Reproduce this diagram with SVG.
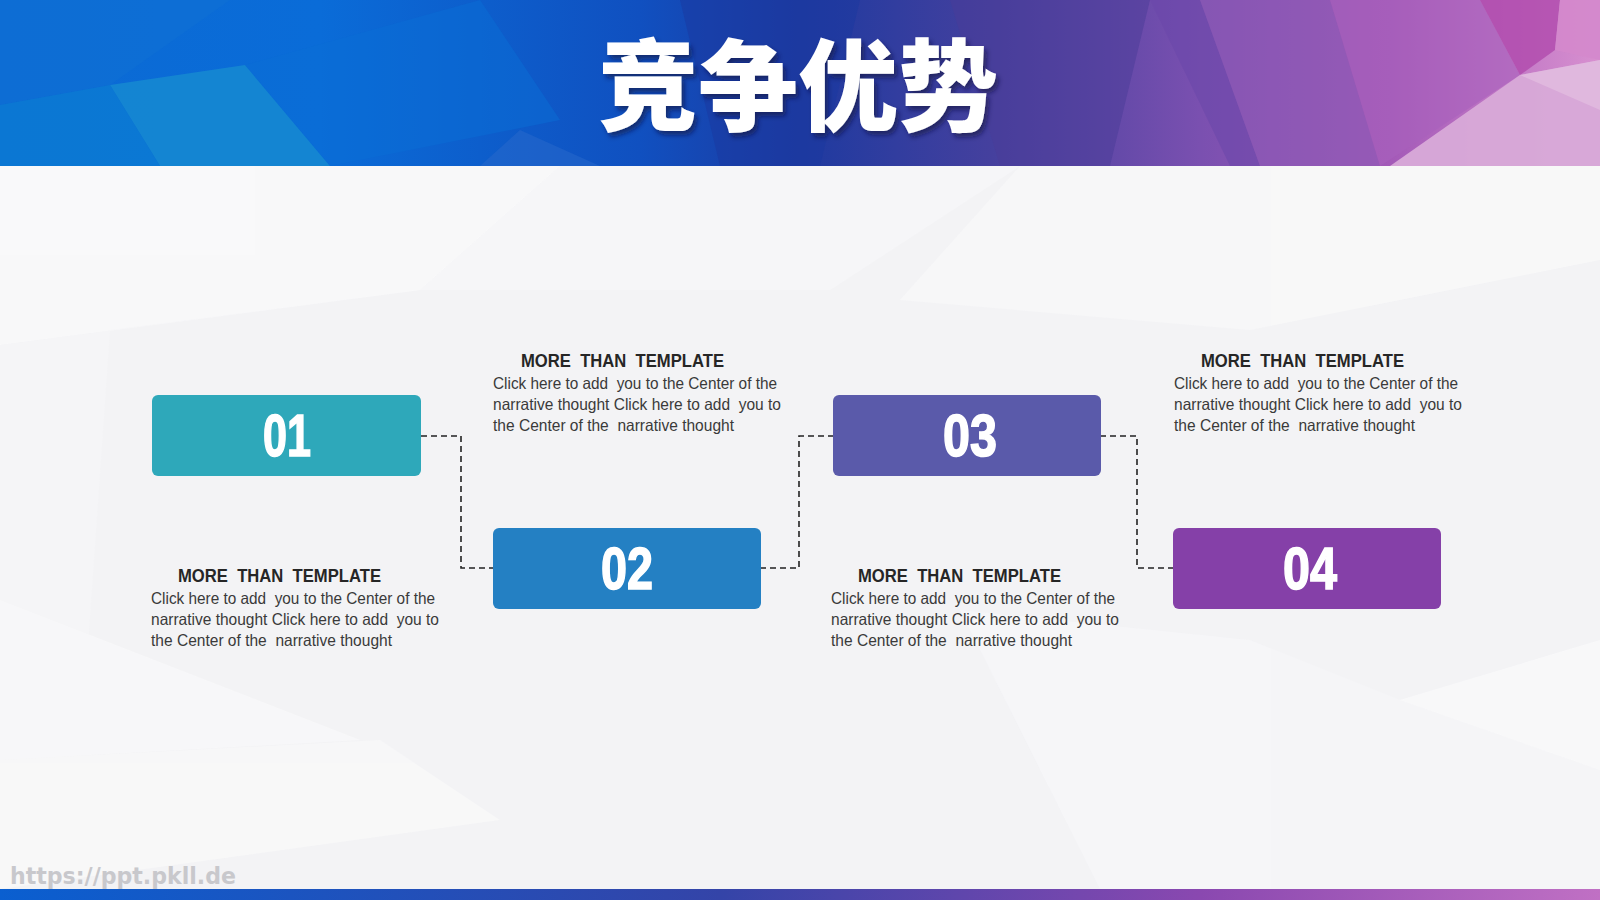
<svg xmlns="http://www.w3.org/2000/svg" width="1600" height="900" viewBox="0 0 1600 900">
<defs>
<linearGradient id="hdr" x1="0" y1="0" x2="1" y2="0">
<stop offset="0" stop-color="#0B6AD4"/>
<stop offset="0.2" stop-color="#0A6CD8"/>
<stop offset="0.4" stop-color="#1050C0"/>
<stop offset="0.5" stop-color="#1E3AA0"/>
<stop offset="0.62" stop-color="#45409E"/>
<stop offset="0.75" stop-color="#7A50B0"/>
<stop offset="0.87" stop-color="#A45AB8"/>
<stop offset="1" stop-color="#D890D0"/>
</linearGradient>
<linearGradient id="ftr" x1="0" y1="0" x2="1" y2="0">
<stop offset="0" stop-color="#0A5FD0"/>
<stop offset="0.45" stop-color="#3444A8"/>
<stop offset="0.75" stop-color="#8A48B0"/>
<stop offset="1" stop-color="#C070C4"/>
</linearGradient>
<filter id="sh" x="-10%" y="-10%" width="120%" height="130%">
<feDropShadow dx="3" dy="4" stdDeviation="2.5" flood-color="#10103a" flood-opacity="0.6"/>
</filter>
</defs>
<style>
.box{stroke:none}
.num{font-family:"Liberation Sans",Arial,sans-serif;font-weight:bold;font-size:60px;fill:#fff;stroke:#fff;stroke-width:1.6;text-anchor:middle}
.hd{font-family:"Liberation Sans",Arial,sans-serif;font-weight:bold;font-size:18px;fill:#262626;white-space:pre}
.bd{font-family:"Liberation Sans",Arial,sans-serif;font-size:16.5px;fill:#3a3a3a;white-space:pre}
.con{fill:none;stroke:#222;stroke-width:1.6;stroke-dasharray:6 4}
</style>
<!-- background -->
<rect x="0" y="0" width="1600" height="900" fill="#F3F3F5"/>
<g opacity="0.7">
<polygon points="0,166 560,166 420,290 0,345" fill="#FBFBFC"/>
<polygon points="560,166 1020,166 830,290 420,290" fill="#F8F8FA"/>
<polygon points="1020,166 1600,166 1600,260 1250,330 900,300" fill="#F9F9FA"/>
<polygon points="0,345 420,290 110,330 80,760 0,760" fill="#F6F6F8"/>
<polygon points="0,760 380,740 500,820 0,889" fill="#F9F9FA"/>
<polygon points="960,610 1250,640 1400,700 1600,770 1600,889 1100,889" fill="#F7F7F9"/>
<polygon points="1400,700 1600,640 1600,770" fill="#FBFBFC"/>
<polygon points="0,760 0,600 360,740" fill="#FAFAFB"/>
</g>
<!-- header -->
<g id="header">
<rect x="0" y="0" width="1600" height="166" fill="url(#hdr)"/>
<polygon points="0,0 230,0 110,85 0,105" fill="#0F70D4" opacity="0.6"/>
<polygon points="110,85 245,65 330,166 160,166" fill="#1890D0" opacity="0.7"/>
<polygon points="0,105 110,85 160,166 0,166" fill="#0C80D2" opacity="0.6"/>
<polygon points="245,65 480,0 560,120 330,166" fill="#0A6ED6" opacity="0.5"/>
<polygon points="520,130 600,166 480,166" fill="#2A6ACC" opacity="0.5"/>
<polygon points="680,0 860,0 820,166 720,166" fill="#1A38A0" opacity="0.5"/>
<polygon points="950,0 1150,0 1110,166 1000,166" fill="#4A3C98" opacity="0.5"/>
<polygon points="1150,0 1200,0 1260,166 1230,166" fill="#6A48AA" opacity="0.6"/>
<polygon points="1200,0 1330,0 1380,166 1260,166" fill="#8E5AB6" opacity="0.6"/>
<polygon points="1330,0 1480,0 1520,75 1380,166" fill="#A860BC" opacity="0.6"/>
<polygon points="1480,0 1560,0 1555,50 1520,75" fill="#B04AAC" opacity="0.8"/>
<polygon points="1560,0 1600,0 1600,60 1555,50" fill="#D488CC" opacity="0.9"/>
<polygon points="1390,166 1520,75 1600,60 1600,166" fill="#D8AAD8" opacity="0.95"/>
<polygon points="1520,75 1600,60 1600,110" fill="#E2BCE0" opacity="0.8"/>
<text x="798" y="123" font-family="'Noto Sans CJK SC','Noto Sans CJK JP',sans-serif" font-weight="900" font-size="100" fill="#ffffff" text-anchor="middle" filter="url(#sh)">竞争优势</text>
</g>
<rect x="0" y="889" width="1600" height="11" fill="url(#ftr)"/>
<text x="10" y="884" font-family="'DejaVu Sans',sans-serif" font-weight="bold" font-size="23" fill="#C8C8CC" textLength="226" lengthAdjust="spacingAndGlyphs">https://ppt.pkll.de</text>
<!-- connectors -->
<g id="connectors">
<polyline class="con" points="421,436 461,436 461,568 493,568"/>
<polyline class="con" points="760,568 799,568 799,436 833,436"/>
<polyline class="con" points="1100,436 1137,436 1137,568 1173,568"/>
</g>
<!-- nodes -->
<g id="node1">
<rect class="box" x="152" y="395" width="269" height="81" rx="6" fill="#2EA8BA"/>
<text class="num" x="287" y="456" textLength="48" lengthAdjust="spacingAndGlyphs">01</text>
<text class="hd" x="178" y="582" textLength="203" lengthAdjust="spacingAndGlyphs">MORE  THAN  TEMPLATE</text>
<text class="bd" x="151" y="604" textLength="284" lengthAdjust="spacingAndGlyphs">Click here to add  you to the Center of the</text>
<text class="bd" x="151" y="625" textLength="288" lengthAdjust="spacingAndGlyphs">narrative thought Click here to add  you to</text>
<text class="bd" x="151" y="646" textLength="241" lengthAdjust="spacingAndGlyphs">the Center of the  narrative thought</text>
</g>
<g id="node2">
<rect class="box" x="493" y="528" width="268" height="81" rx="6" fill="#2480C3"/>
<text class="num" x="627" y="589" textLength="52" lengthAdjust="spacingAndGlyphs">02</text>
<text class="hd" x="521" y="367" textLength="203" lengthAdjust="spacingAndGlyphs">MORE  THAN  TEMPLATE</text>
<text class="bd" x="493" y="389" textLength="284" lengthAdjust="spacingAndGlyphs">Click here to add  you to the Center of the</text>
<text class="bd" x="493" y="410" textLength="288" lengthAdjust="spacingAndGlyphs">narrative thought Click here to add  you to</text>
<text class="bd" x="493" y="431" textLength="241" lengthAdjust="spacingAndGlyphs">the Center of the  narrative thought</text>
</g>
<g id="node3">
<rect class="box" x="833" y="395" width="268" height="81" rx="6" fill="#5A5AAA"/>
<text class="num" x="970" y="456" textLength="54" lengthAdjust="spacingAndGlyphs">03</text>
<text class="hd" x="858" y="582" textLength="203" lengthAdjust="spacingAndGlyphs">MORE  THAN  TEMPLATE</text>
<text class="bd" x="831" y="604" textLength="284" lengthAdjust="spacingAndGlyphs">Click here to add  you to the Center of the</text>
<text class="bd" x="831" y="625" textLength="288" lengthAdjust="spacingAndGlyphs">narrative thought Click here to add  you to</text>
<text class="bd" x="831" y="646" textLength="241" lengthAdjust="spacingAndGlyphs">the Center of the  narrative thought</text>
</g>
<g id="node4">
<rect class="box" x="1173" y="528" width="268" height="81" rx="6" fill="#8540A8"/>
<text class="num" x="1310" y="589" textLength="54" lengthAdjust="spacingAndGlyphs">04</text>
<text class="hd" x="1201" y="367" textLength="203" lengthAdjust="spacingAndGlyphs">MORE  THAN  TEMPLATE</text>
<text class="bd" x="1174" y="389" textLength="284" lengthAdjust="spacingAndGlyphs">Click here to add  you to the Center of the</text>
<text class="bd" x="1174" y="410" textLength="288" lengthAdjust="spacingAndGlyphs">narrative thought Click here to add  you to</text>
<text class="bd" x="1174" y="431" textLength="241" lengthAdjust="spacingAndGlyphs">the Center of the  narrative thought</text>
</g>
</svg>
